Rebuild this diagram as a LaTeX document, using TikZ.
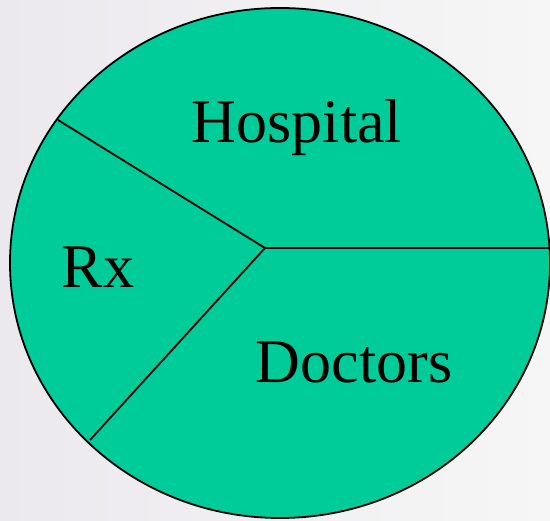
\documentclass[tikz,border=0pt]{standalone}
\usepackage{fontspec}
\setmainfont{Liberation Serif}
\newfontfamily\piefont{Liberation Serif}
\definecolor{piegreen}{RGB}{0,204,153}
\definecolor{bgleft}{RGB}{236,233,238}
\definecolor{bgright}{RGB}{246,246,246}
\begin{document}
\begin{tikzpicture}[x=1pt, y=-1pt,
  slice/.style={draw=black,line width=1.8pt},
  lbl/.style={anchor=base,font=\piefont\fontsize{62}{70}\selectfont,inner sep=0pt}]
\useasboundingbox (0,0) rectangle (550,521);
\shade[left color=bgleft,right color=bgright] (0,0) rectangle (550,521);
% pie
\draw[slice,fill=piegreen] (280,263) ellipse [x radius=270pt, y radius=255pt];
\coordinate (hub) at (265,248);
\coordinate (upleft) at (58,120);
\coordinate (lowleft) at (90,440);
\coordinate (right) at (551,248);
\draw[slice] (upleft) -- (hub) -- (lowleft); \draw[slice] (hub) -- (right);
% labels
\node[lbl] (hosp) at (297,143) {Hospital};
\node[lbl] (rx) at (98,288) {Rx};
\node[lbl] (doc) at (354,383) {Doctors};
\end{tikzpicture}
\end{document}
